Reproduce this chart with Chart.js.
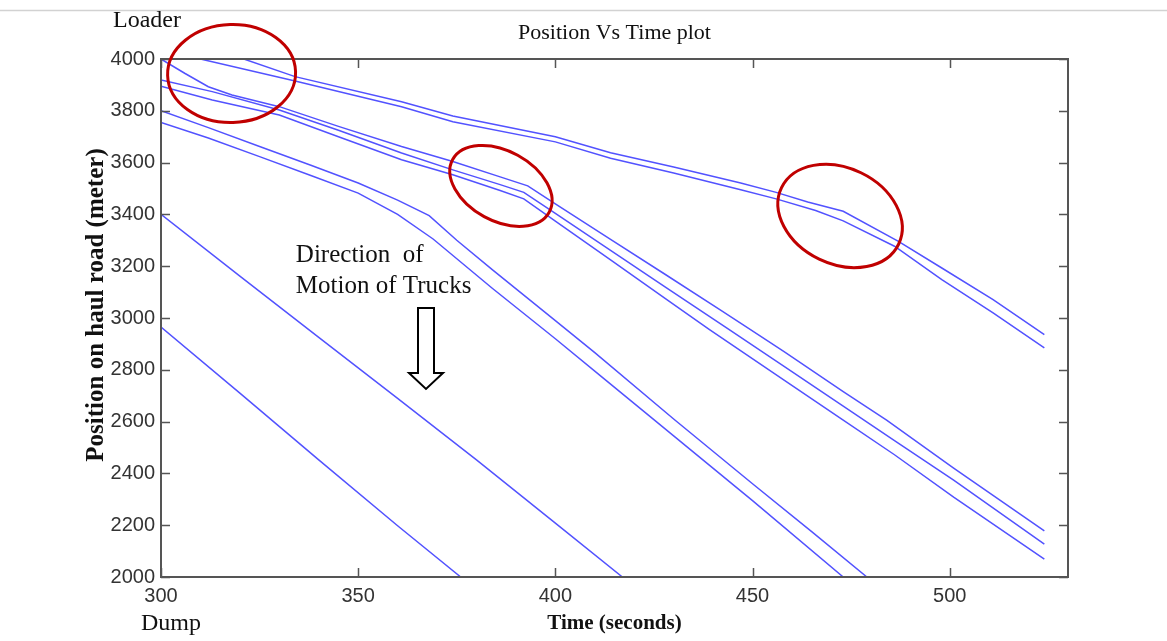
<!DOCTYPE html>
<html>
<head>
<meta charset="utf-8">
<script src="https://cdn.jsdelivr.net/npm/chart.js@4/dist/chart.umd.min.js"></script>
<style>
html,body{margin:0;padding:0;background:#fff;}
canvas{display:block;}
</style>
</head>
<body>
<canvas id="c" width="1167" height="641"></canvas>
<script>
// ---- data ----
const xTickValues = [300, 350, 400, 450, 500];
const yTickValues = [2000, 2200, 2400, 2600, 2800, 3000, 3200, 3400, 3600, 3800, 4000];

const truck1Time = [300, 321, 334, 361, 374, 400, 414, 430, 447, 456, 464, 473, 487, 498, 511, 524];
const truck1Pos  = [4000, 4000, 3932, 3835, 3780, 3700, 3638, 3583, 3521, 3485, 3448, 3412, 3296, 3193, 3071, 2936];

const truck2Time = [300, 310, 334, 361, 374, 400, 414, 430, 447, 456, 466, 473, 486, 498, 511, 524];
const truck2Pos  = [4000, 4000, 3915, 3816, 3758, 3680, 3617, 3560, 3495, 3460, 3415, 3375, 3277, 3148, 3020, 2885];

const truck3Time = [300, 306, 312, 318, 330, 345, 361, 374, 386, 393, 400, 414, 428, 442, 449, 458, 473, 484, 501, 524];
const truck3Pos  = [4000, 3945, 3893, 3861, 3816, 3740, 3662, 3604, 3545, 3510, 3441, 3304, 3167, 3029, 2960, 2870, 2716, 2606, 2420, 2178];

const truck4Time = [300, 313, 330, 345, 361, 374, 386, 392, 400, 414, 428, 444, 458, 473, 486, 501, 524];
const truck4Pos  = [3919, 3874, 3803, 3725, 3637, 3572, 3515, 3485, 3404, 3261, 3118, 2956, 2813, 2660, 2527, 2374, 2127];

const truck5Time = [300, 313, 330, 345, 361, 374, 386, 392, 400, 414, 428, 439, 458, 473, 486, 501, 524];
const truck5Pos  = [3895, 3842, 3784, 3700, 3611, 3553, 3492, 3460, 3374, 3224, 3074, 2956, 2760, 2606, 2472, 2308, 2069];

const truck6Time = [300, 312, 325, 338, 350, 360, 368, 375, 384, 400, 410, 430, 450, 465, 479];
const truck6Pos  = [3800, 3735, 3662, 3590, 3521, 3455, 3395, 3300, 3187, 2990, 2866, 2610, 2360, 2175, 2000];

const truck7Time = [300, 312, 325, 338, 350, 360, 369, 384, 400, 412, 430, 450, 473];
const truck7Pos  = [3755, 3695, 3623, 3550, 3482, 3400, 3305, 3115, 2920, 2770, 2545, 2295, 2000];

const truck8Time = [300, 320, 340, 360, 380, 400, 417];
const truck8Pos  = [3400, 3162, 2925, 2690, 2452, 2208, 2000];

const truck9Time = [300, 320, 340, 360, 376];
const truck9Pos  = [2965, 2710, 2452, 2198, 2000];

const trucks = [
  [truck1Time, truck1Pos], [truck2Time, truck2Pos], [truck3Time, truck3Pos],
  [truck4Time, truck4Pos], [truck5Time, truck5Pos], [truck6Time, truck6Pos],
  [truck7Time, truck7Pos], [truck8Time, truck8Pos], [truck9Time, truck9Pos]
];

// ---- annotation placement (data coordinates) ----
const ellipseNotes = [
  {t: 317.9, p: 3944, rx: 64, ry: 49, rot: -0.03},
  {t: 386.2, p: 3510, rx: 55, ry: 35, rot: 0.5},
  {t: 472.2, p: 3394, rx: 65, ry: 48, rot: 0.45}
];
const arrowNote = {t: 367.2, p: 3039};
const textNote = {t: 334.2, line1: 3216, line2: 3095};

const SERIF = '"Liberation Serif", "Times New Roman", serif';
const SANS = '"Liberation Sans", Arial, sans-serif';

const decor = {
  id: 'decor',
  beforeDraw(chart) {
    const ctx = chart.ctx;
    ctx.save();
    ctx.strokeStyle = '#d2d2d2';
    ctx.lineWidth = 1.5;
    ctx.beginPath();
    ctx.moveTo(0, 10.5);
    ctx.lineTo(chart.width, 10.5);
    ctx.stroke();
    ctx.restore();
  },
  afterDraw(chart) {
    const ctx = chart.ctx;
    const a = chart.chartArea;
    const x = chart.scales.x, y = chart.scales.y;
    ctx.save();
    // axes box
    ctx.strokeStyle = '#555';
    ctx.lineWidth = 2;
    ctx.strokeRect(a.left, a.top, a.right - a.left, a.bottom - a.top);
    // inward ticks on all four sides
    const tl = 9;
    ctx.lineWidth = 1.5;
    ctx.beginPath();
    xTickValues.forEach(v => {
      const px = Math.round(x.getPixelForValue(v)) + 0.5;
      ctx.moveTo(px, a.bottom); ctx.lineTo(px, a.bottom - tl);
      ctx.moveTo(px, a.top); ctx.lineTo(px, a.top + tl);
    });
    yTickValues.forEach(v => {
      const py = Math.round(y.getPixelForValue(v)) + 0.5;
      ctx.moveTo(a.left, py); ctx.lineTo(a.left + tl, py);
      ctx.moveTo(a.right, py); ctx.lineTo(a.right - tl, py);
    });
    ctx.stroke();

    // red ellipses
    ctx.strokeStyle = '#c00000';
    ctx.lineWidth = 3;
    ellipseNotes.forEach(e => {
      ctx.beginPath();
      ctx.ellipse(x.getPixelForValue(e.t), y.getPixelForValue(e.p), e.rx, e.ry, e.rot, 0, Math.PI * 2);
      ctx.stroke();
    });

    // hollow arrow
    const ax = x.getPixelForValue(arrowNote.t);
    const ay = y.getPixelForValue(arrowNote.p);
    ctx.strokeStyle = '#000';
    ctx.fillStyle = '#fff';
    ctx.lineWidth = 2;
    ctx.beginPath();
    ctx.moveTo(ax - 8, ay);
    ctx.lineTo(ax + 8, ay);
    ctx.lineTo(ax + 8, ay + 65);
    ctx.lineTo(ax + 17, ay + 65);
    ctx.lineTo(ax, ay + 81);
    ctx.lineTo(ax - 17, ay + 65);
    ctx.lineTo(ax - 8, ay + 65);
    ctx.closePath();
    ctx.fill();
    ctx.stroke();

    // texts
    ctx.fillStyle = '#111';
    ctx.textBaseline = 'alphabetic';
    ctx.textAlign = 'left';
    ctx.font = '25px ' + SERIF;
    const tx = x.getPixelForValue(textNote.t);
    ctx.fillText('Direction\u2002of', tx, y.getPixelForValue(textNote.line1));
    ctx.fillText('Motion of Trucks', tx, y.getPixelForValue(textNote.line2));

    ctx.font = '24px ' + SERIF;
    ctx.fillText('Loader', a.left - 48, 27);
    ctx.fillText('Dump', a.left - 20, 630);

    // y axis title
    ctx.save();
    ctx.translate(97, 305);
    ctx.rotate(-Math.PI / 2);
    ctx.textAlign = 'center';
    ctx.textBaseline = 'middle';
    ctx.font = 'bold 25px ' + SERIF;
    ctx.fillText('Position on haul road (meter)', 0, 0);
    ctx.restore();

    ctx.restore();
  }
};

const datasets = trucks.map(([ts, ps], i) => ({
  label: 'Truck ' + (i + 1),
  data: ts.map((t, k) => ({x: t, y: ps[k]})),
  borderColor: '#5252ff',
  borderWidth: 1.5,
  pointRadius: 0,
  fill: false,
  tension: 0
}));

new Chart(document.getElementById('c'), {
  type: 'line',
  data: {datasets},
  options: {
    responsive: false,
    devicePixelRatio: 1,
    animation: false,
    events: [],
    layout: {padding: {left: 0, right: 99, top: 0, bottom: 0}},
    plugins: {
      legend: {display: false},
      tooltip: {enabled: false},
      title: {
        display: true,
        text: 'Position Vs Time plot',
        fullSize: false,
        color: '#111',
        font: {family: SERIF, size: 22, weight: 'normal', lineHeight: 1.2},
        padding: {top: 19.8, bottom: 12.8}
      }
    },
    scales: {
      x: {
        type: 'linear',
        min: 300,
        max: 530,
        grid: {display: false, drawTicks: false},
        border: {display: false},
        ticks: {
          stepSize: 50,
          includeBounds: false,
          color: '#333',
          font: {family: SANS, size: 20},
          padding: 7,
          maxRotation: 0,
          callback: v => String(v)
        },
        afterBuildTicks: s => { s.ticks = xTickValues.map(v => ({value: v})); },
        afterFit: s => { s.height = 64; },
        title: {
          display: true,
          text: 'Time (seconds)',
          color: '#111',
          font: {family: SERIF, size: 21, weight: 'bold', lineHeight: 1.2},
          padding: {top: 0, bottom: 5}
        }
      },
      y: {
        type: 'linear',
        min: 2000,
        max: 4000,
        grid: {display: false, drawTicks: false},
        border: {display: false},
        ticks: {
          stepSize: 200,
          color: '#333',
          font: {family: SANS, size: 20},
          padding: 6,
          callback: v => String(v)
        },
        afterBuildTicks: s => { s.ticks = yTickValues.map(v => ({value: v})); },
        afterFit: s => { s.width = 161; }
      }
    }
  },
  plugins: [decor]
});
</script>
</body>
</html>
